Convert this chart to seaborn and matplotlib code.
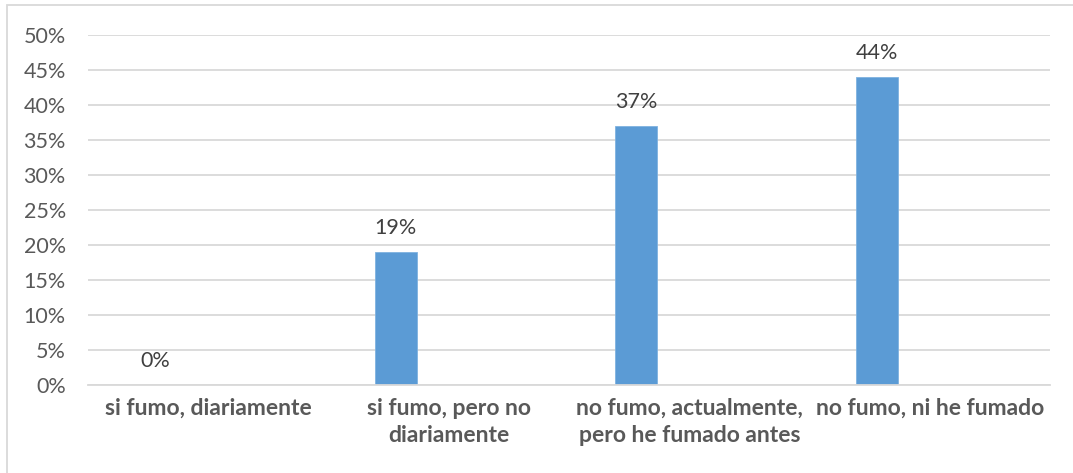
import pandas as pd
import seaborn as sns
import matplotlib.pyplot as plt
from matplotlib.ticker import PercentFormatter, MultipleLocator
import matplotlib.patches as mpatches

categories = [
    "si fumo, diariamente",
    "si fumo, pero no\ndiariamente",
    "no fumo, actualmente,\npero he fumado antes",
    "no fumo, ni he fumado",
]
shares = [0.00, 0.19, 0.37, 0.44]
bar_color = "#5B9BD5"
text_color = "#595959"
grid_color = "#D9D9D9"

df = pd.DataFrame({"category": categories, "share": shares})
df["pos"] = df.index - 0.22

sns.set_theme(style="white")
plt.rcParams["font.family"] = ["Lato", "DejaVu Sans"]

fig = plt.figure(figsize=(10.73, 4.73), dpi=100)
ax = fig.add_axes([0.082, 0.186, 0.8966, 0.74])

sns.barplot(
    data=df,
    x="pos",
    y="share",
    native_scale=True,
    color=bar_color,
    width=0.175,
    saturation=1,
    ax=ax,
)

for bar in ax.patches:
    bar.set_edgecolor("#7FB2E0")
    bar.set_linewidth(0.6)

for _, row in df.iterrows():
    ax.annotate(
        f"{row['share']:.0%}",
        (row["pos"], row["share"]),
        xytext=(0, 10),
        textcoords="offset points",
        ha="center",
        va="bottom",
        fontsize=15.5,
        color="#404040",
    )

ax.set_xlim(-0.5, len(categories) - 0.5)
ax.set_ylim(0, 0.5)
ax.yaxis.set_major_locator(MultipleLocator(0.05))
ax.yaxis.set_major_formatter(PercentFormatter(1.0, decimals=0))
ax.set_xticks(range(len(categories)))
ax.set_xticklabels(categories, fontweight="bold", fontsize=16.5, color=text_color,
                   linespacing=1.4)
ax.tick_params(axis="y", labelsize=15.5, labelcolor=text_color, length=0, pad=16)
ax.tick_params(axis="x", length=0, pad=9)

ax.yaxis.grid(True, color=grid_color, linewidth=1.3)
ax.set_axisbelow(True)
for side in ["top", "right", "left"]:
    ax.spines[side].set_visible(False)
ax.spines["bottom"].set_color(grid_color)
ax.spines["bottom"].set_linewidth(1.3)
ax.set_xlabel("")
ax.set_ylabel("")

# light frame around the chart area
frame = mpatches.Rectangle(
    (0.0065, -0.02), 1.1, 1.01, transform=fig.transFigure,
    fill=False, edgecolor="#D9D9D9", linewidth=1.3,
)
fig.patches.append(frame)

fig.savefig("out.png", dpi=100)
